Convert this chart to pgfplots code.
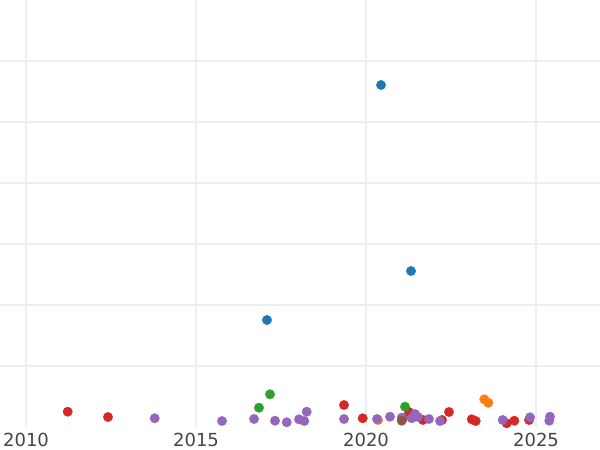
\documentclass[border=0pt]{standalone}
\usepackage{pgfplots}
\pgfplotsset{compat=1.18}
\usepackage{fontspec}
\setmainfont{DejaVu Sans}
\definecolor{pblue}{HTML}{1F77B4}
\definecolor{porange}{HTML}{FF7F0E}
\definecolor{pgreen}{HTML}{2CA02C}
\definecolor{pred}{HTML}{D62728}
\definecolor{ppurple}{HTML}{9467BD}
\definecolor{pbrown}{HTML}{8C564B}
\definecolor{gridc}{HTML}{EEEEEE}
\definecolor{txt}{HTML}{444444}
\begin{document}
\begin{tikzpicture}
\path[use as bounding box] (0,-23bp) rectangle (600bp,427bp);
\begin{axis}[
  at={(0,0)}, anchor=south west,
  scale only axis, width=600bp, height=427bp,
  xmin=2009.235, xmax=2026.882, ymin=0, ymax=7,
  axis line style={draw=none},
  major tick length=0pt,
  xtick={2010,2015,2020,2025},
  xticklabels={2010,2015,2020,2025},
  ytick={1,2,3,4,5,6}, yticklabels={},
  xmajorgrids, ymajorgrids,
  major grid style={draw=gridc, line width=1.3bp},
  xticklabel style={font=\fontsize{18bp}{20bp}\selectfont, text=txt, inner sep=0pt, yshift=-6bp},
  every axis plot/.append style={only marks, mark=*, mark size=4.7bp},
  clip=false,
]
\addplot[pred, mark options={draw=pred, fill=pred}] coordinates {
(2011.226,0.251) (2012.412,0.164) (2019.353,0.361) (2019.903,0.143)
(2021.265,0.246) (2021.088,0.148) (2021.676,0.115) (2022.235,0.115)
(2022.441,0.246) (2023.109,0.126) (2023.226,0.098) (2024.138,0.061)
(2024.362,0.103) (2024.794,0.115)};
\addplot[porange, mark options={draw=porange, fill=porange}] coordinates {
(2020.353,0.115) (2023.479,0.454) (2023.597,0.398)};
\addplot[ppurple, mark options={draw=ppurple, fill=ppurple}] coordinates {
(2013.785,0.143) (2015.765,0.098) (2016.706,0.131) (2017.324,0.103)
(2017.668,0.077) (2018.029,0.126) (2018.185,0.098) (2018.256,0.251)
(2019.353,0.131) (2020.324,0.131) (2020.706,0.169) (2021.050,0.152)
(2021.344,0.143) (2021.441,0.213) (2021.529,0.164) (2021.853,0.131)
(2022.176,0.098) (2024.021,0.115) (2024.824,0.159) (2025.412,0.169)
(2025.391,0.103)};
\addplot[pgreen, mark options={draw=pgreen, fill=pgreen}] coordinates {
(2016.853,0.316) (2017.176,0.536) (2021.147,0.333)};
\addplot[pbrown, mark options={draw=pbrown, fill=pbrown}] coordinates {
(2021.050,0.103)};
\addplot[pblue, mark options={draw=pblue, fill=pblue}] coordinates {
(2020.441,5.607) (2021.324,2.557) (2017.088,1.754)};
\end{axis}
\end{tikzpicture}
\end{document}
